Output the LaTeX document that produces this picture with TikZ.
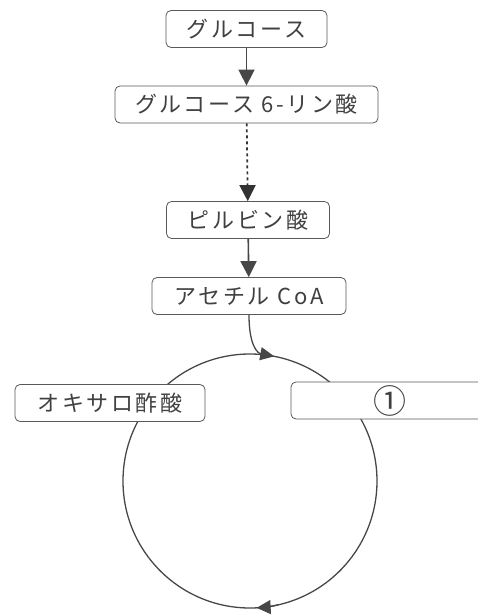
\documentclass[tikz,border=0pt]{standalone}
\usepackage{fontspec}
\setmainfont{Noto Sans CJK JP}
\newfontfamily\boxfont[LetterSpace=12]{Noto Sans CJK JP}
\usetikzlibrary{arrows.meta,positioning}

\tikzset{
  stepbox/.style={draw=black!65, rounded corners=5pt, line width=0.8pt, fill=white,
    minimum height=37pt, inner sep=0pt, text=black!75, font=\boxfont\fontsize{22}{24}\selectfont},
  flow/.style={draw=black!72, line width=1.6pt, -{Triangle[length=16pt,width=16pt]}},
  cycleline/.style={draw=black!72, line width=1.3pt},
}

\begin{document}
\begin{tikzpicture}[x=1pt,y=1pt]
\useasboundingbox (0,0) rectangle (478,-616);
\clip (0,0) rectangle (478,-616);

% glycolysis
\node[stepbox, minimum width=161pt] (glc) at (246.5,-29) {グルコース};
\node[stepbox, minimum width=263pt] (g6p) at (246.5,-104.5) {グルコース 6-リン酸};
\node[stepbox, minimum width=163pt] (pyr) at (248,-220) {ピルビン酸};
\node[stepbox, minimum width=194pt] (acoa) at (249,-296) {アセチル CoA};

\draw[flow] (glc) -- (g6p);
\draw[flow, draw=black!80, line width=1.7pt, dash pattern=on 3pt off 3pt] (g6p) -- (pyr);
\draw[flow] (pyr) -- (acoa);

% citric acid cycle
\coordinate (c) at (250,-481);
\draw[cycleline] (c) circle[radius=127];
\path (c) ++(79:127) coordinate (in);
\draw[cycleline, -{Triangle[length=14pt,width=13pt]}] (acoa.south) .. controls +(0,-32) and +(-16,3) .. (in);
\draw[cycleline, -{Triangle[length=14pt,width=14pt]}] (c) ++(-77:127) arc[start angle=-77, end angle=-87, radius=127];

\node[stepbox, minimum width=190pt] (oaa) at (110,-403) {オキサロ酢酸};
\node[stepbox, minimum width=198pt, font=\fontsize{33}{33}\selectfont] (n1) at (390,-400.5) {①};

\end{tikzpicture}
\end{document}
